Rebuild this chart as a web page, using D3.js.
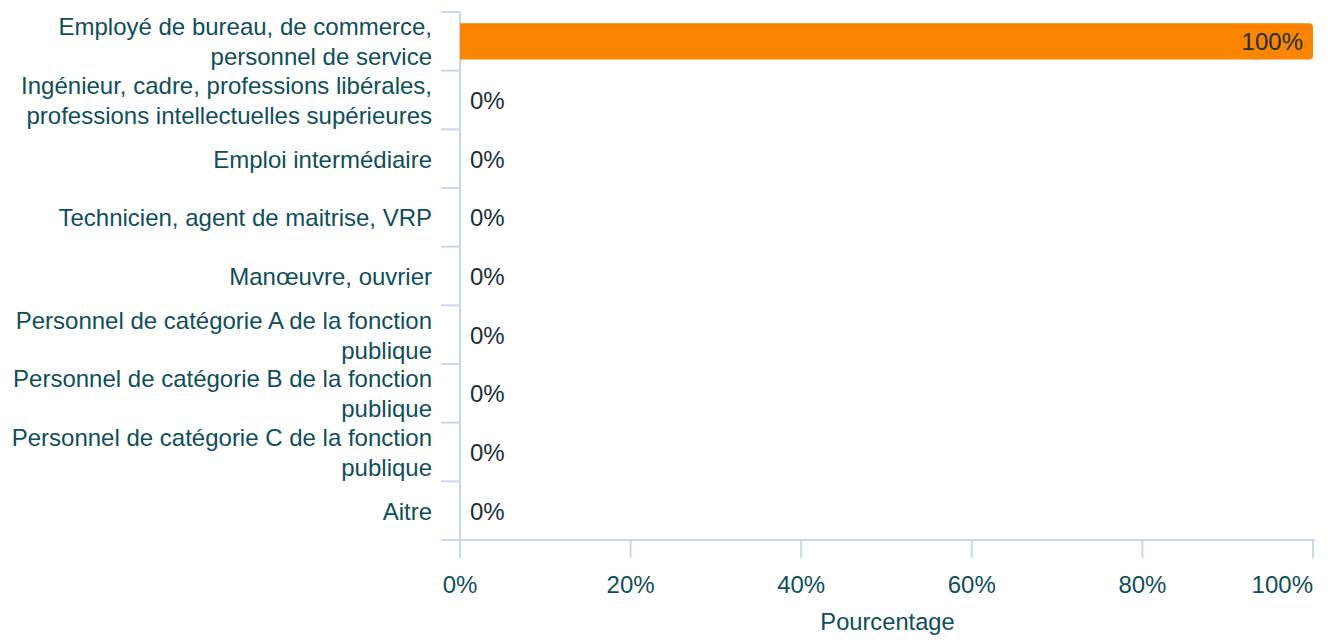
<!DOCTYPE html>
<html><head><meta charset="utf-8">
<script src="https://cdn.jsdelivr.net/npm/d3@7"></script>
<style>body{margin:0;background:#fff}svg{display:block;font-family:"Liberation Sans",Arial,sans-serif}</style>
</head><body><svg id="c" width="1331" height="642"></svg>
<script>
const categories = [
  ["Employé de bureau, de commerce,", "personnel de service"],
  ["Ingénieur, cadre, professions libérales,", "professions intellectuelles supérieures"],
  ["Emploi intermédiaire"],
  ["Technicien, agent de maitrise, VRP"],
  ["Manœuvre, ouvrier"],
  ["Personnel de catégorie A de la fonction", "publique"],
  ["Personnel de catégorie B de la fonction", "publique"],
  ["Personnel de catégorie C de la fonction", "publique"],
  ["Aitre"]
];
const values = [100, 0, 0, 0, 0, 0, 0, 0, 0];
const xTicks = [0, 20, 40, 60, 80, 100];
const xTitle = "Pourcentage";

(function () {
const svg = d3.select("#c");
const mLeft = 460, mRight = 1313, mTop = 12, mBottom = 540;
const ids = categories.map((d, i) => i);
const x = d3.scaleLinear().domain([0, 100]).range([mLeft, mRight]);
const y = d3.scaleBand().domain(ids).range([mTop, mBottom]).paddingInner(0.38).paddingOuter(0.19);
const yb = d3.scaleBand().domain(ids).range([mTop, mBottom]);
const axisColor = "#ccd6eb";
const labelColor = "#0e4f5a";
const fs = 24;

svg.append("line").attr("x1", mLeft).attr("x2", mLeft).attr("y1", mTop).attr("y2", mBottom + 18)
  .attr("stroke", axisColor).attr("stroke-width", 2);
const bounds = ids.map(i => yb(i)).concat([mBottom]);
svg.selectAll(".yt").data(bounds).join("line")
  .attr("x1", mLeft - 19).attr("x2", mLeft).attr("y1", d => d).attr("y2", d => d)
  .attr("stroke", axisColor).attr("stroke-width", 2);
svg.append("line").attr("x1", mLeft - 19).attr("x2", mRight + 2).attr("y1", mBottom).attr("y2", mBottom)
  .attr("stroke", axisColor).attr("stroke-width", 2);
svg.selectAll(".xt").data(xTicks).join("line")
  .attr("x1", d => x(d)).attr("x2", d => x(d)).attr("y1", mBottom).attr("y2", mBottom + 18)
  .attr("stroke", axisColor).attr("stroke-width", 2);
svg.selectAll(".xl").data(xTicks).join("text")
  .attr("x", (d, i) => i === xTicks.length - 1 ? x(d) : x(d)).attr("y", 593)
  .attr("text-anchor", (d, i) => i === xTicks.length - 1 ? "end" : "middle")
  .attr("fill", labelColor).attr("font-size", fs).text(d => d + "%");
svg.append("text").attr("x", (mLeft + mRight) / 2 + 1).attr("y", 630).attr("text-anchor", "middle")
  .attr("fill", labelColor).attr("font-size", 23.7).text(xTitle);

const lh = 30;
categories.forEach((lines, i) => {
  const cy = yb(i) + yb.bandwidth() / 2;
  const t = svg.append("text").attr("text-anchor", "end").attr("fill", labelColor).attr("font-size", fs);
  lines.forEach((ln, k) => {
    t.append("tspan").attr("x", 432).attr("y", cy + (k - (lines.length - 1) / 2) * lh + 9).text(ln);
  });
});

const r = 4;
values.forEach((v, i) => {
  if (v <= 0) return;
  const x0 = x(0), x1 = x(v), y0 = y(i), h = y.bandwidth();
  const p = `M${x0},${y0}H${x1 - r}Q${x1},${y0} ${x1},${y0 + r}V${y0 + h - r}Q${x1},${y0 + h} ${x1 - r},${y0 + h}H${x0}Z`;
  svg.append("path").attr("d", p).attr("fill", "#fb8500");
});
svg.selectAll(".vl").data(values).join("text")
  .attr("x", (d, i) => d > 0 ? x(d) - 10 : x(d) + 10)
  .attr("y", (d, i) => y(i) + y.bandwidth() / 2 + 9)
  .attr("text-anchor", d => d > 0 ? "end" : "start")
  .attr("fill", "#1a2f33").attr("font-size", 24)
  .text(d => d + "%");
})();
</script></body></html>
